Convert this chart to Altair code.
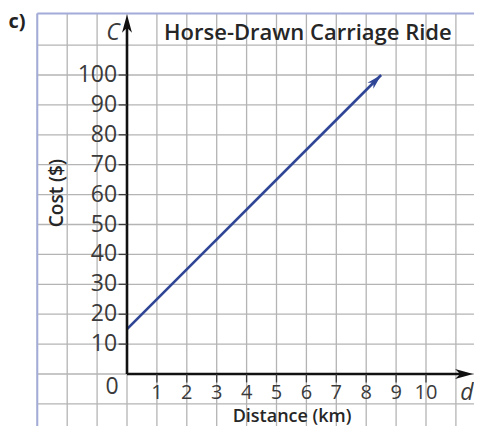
import altair as alt
import pandas as pd

# ---- data ----
distance = [0, 8.5]          # km
cost = [15, 100]             # $
x_ticks = [1, 2, 3, 4, 5, 6, 7, 8, 9, 10]
y_ticks = [10, 20, 30, 40, 50, 60, 70, 80, 90, 100]
grid_x = list(range(-3, 12))
grid_y = list(range(-10, 120, 10))

title_text = "Horse-Drawn Carriage Ride"
x_title = "Distance (km)"
y_title = "Cost ($)"

# ---- scales (plot area 466 x 418) ----
W, H = 466, 418
XMIN = -3.98
XMAX = XMIN + W / 29.9
YMAX = 122.41
YMIN = YMAX - H / 2.99
TOP = 120.6
xs = alt.Scale(domain=[XMIN, XMAX], nice=False, zero=False)
ys = alt.Scale(domain=[YMIN, YMAX], nice=False, zero=False)

FONT = "Open Sans"
GRID = "#b4b4b4"
BORDER = "#a3acd8"
INK = "#3a3a3a"
LINE = "#2f4596"
ARROW = "M0,0 L0.55,2 L0,1.45 L-0.55,2 Z"


def X(f):
    return alt.X(f, type="quantitative", scale=xs, axis=None)


def Y(f):
    return alt.Y(f, type="quantitative", scale=ys, axis=None)


def X2(f):
    return alt.X2(f)


def Y2(f):
    return alt.Y2(f)


# grid
vgrid = alt.Chart(pd.DataFrame({"x": grid_x, "y1": [YMIN] * len(grid_x), "y2": [TOP] * len(grid_x)})).mark_rule(
    color=GRID, strokeWidth=1.3).encode(x=X("x"), y=Y("y1"), y2=Y2("y2"))
hgrid = alt.Chart(pd.DataFrame({"y": grid_y, "x1": [-3] * len(grid_y), "x2": [XMAX] * len(grid_y)})).mark_rule(
    color=GRID, strokeWidth=1.3).encode(y=Y("y"), x=X("x1"), x2=X2("x2"))
borders = alt.Chart(pd.DataFrame({
    "x1": [-3, -3], "x2": [-3, XMAX], "y1": [YMIN, TOP], "y2": [TOP, TOP]
})).mark_rule(color=BORDER, strokeWidth=2).encode(x=X("x1"), x2=X2("x2"), y=Y("y1"), y2=Y2("y2"))

# axes lines
axes = alt.Chart(pd.DataFrame({
    "x1": [0, 0], "x2": [0, 11.3], "y1": [0, 0], "y2": [117.5, 0]
})).mark_rule(color="#111111", strokeWidth=2.6).encode(x=X("x1"), x2=X2("x2"), y=Y("y1"), y2=Y2("y2"))
axis_arrows = alt.Chart(pd.DataFrame({"x": [0, 11.58], "y": [120.2, 0], "a": [0, 90]})).mark_point(
    shape=ARROW, filled=True, color="#111111", size=330, opacity=1).encode(
    x=X("x"), y=Y("y"), angle=alt.Angle("a:Q", scale=None))

# ticks
ytick_marks = alt.Chart(pd.DataFrame({"y": y_ticks, "x1": [-0.28] * 10, "x2": [0] * 10})).mark_rule(
    color=INK, strokeWidth=1.3).encode(y=Y("y"), x=X("x1"), x2=X2("x2"))
xtick_marks = alt.Chart(pd.DataFrame({"x": x_ticks, "y1": [0] * 10, "y2": [-2.8] * 10})).mark_rule(
    color=INK, strokeWidth=1.3).encode(x=X("x"), y=Y("y1"), y2=Y2("y2"))

ylabels = alt.Chart(pd.DataFrame({"y": y_ticks, "x": [-0.33] * 10, "t": [str(v) for v in y_ticks]})).mark_text(
    align="right", baseline="middle", font=FONT, fontSize=23, color=INK).encode(x=X("x"), y=Y("y"), text="t:N")
xlabels = alt.Chart(pd.DataFrame({"x": x_ticks, "y": [-6.2] * 10, "t": [str(v) for v in x_ticks]})).mark_text(
    align="center", baseline="middle", font=FONT, fontSize=20, color=INK).encode(x=X("x"), y=Y("y"), text="t:N")
zero_label = alt.Chart(pd.DataFrame({"x": [-0.5], "y": [-4.2], "t": ["0"]})).mark_text(
    align="center", baseline="middle", font=FONT, fontSize=23, color=INK).encode(x=X("x"), y=Y("y"), text="t:N")

var_labels = alt.Chart(pd.DataFrame({"x": [-0.47, 11.37], "y": [114.0, -6.4], "t": ["C", "d"]})).mark_text(
    align="center", baseline="middle", font=FONT, fontSize=23, fontStyle="italic", color=INK).encode(
    x=X("x"), y=Y("y"), text="t:N")

part_label = alt.Chart(pd.DataFrame({"x": [-3.68], "y": [117.6], "t": ["c)"]})).mark_text(
    align="center", baseline="middle", font=FONT, fontSize=20, fontWeight="bold", color="#222222").encode(
    x=X("x"), y=Y("y"), text="t:N")

title = alt.Chart(pd.DataFrame({"x": [6.05], "y": [114.2], "t": [title_text]})).mark_text(
    align="center", baseline="middle", font=FONT, fontSize=22, fontWeight=600, color="#262626").encode(
    x=X("x"), y=Y("y"), text="t:N")
xtitle = alt.Chart(pd.DataFrame({"x": [5.52], "y": [-14.5], "t": [x_title]})).mark_text(
    align="center", baseline="middle", font=FONT, fontSize=18, fontWeight=600, color="#262626").encode(
    x=X("x"), y=Y("y"), text="t:N")
ytitle = alt.Chart(pd.DataFrame({"x": [-2.35], "y": [60.5], "t": [y_title]})).mark_text(
    align="center", baseline="middle", font=FONT, fontSize=19, fontWeight=600, color="#262626", angle=270).encode(
    x=X("x"), y=Y("y"), text="t:N")

# data line with arrowhead
df_line = pd.DataFrame({"d": distance, "c": cost})
line = alt.Chart(df_line).mark_line(color=LINE, strokeWidth=2.6).encode(x=X("d"), y=Y("c"))
tip = alt.Chart(df_line.tail(1)).mark_point(
    shape=ARROW, filled=True, color=LINE, size=230, opacity=1, angle=45).encode(x=X("d"), y=Y("c"))

chart = alt.layer(
    vgrid, hgrid, borders, line, tip, axes, axis_arrows, ytick_marks, xtick_marks,
    ylabels, xlabels, zero_label, var_labels, part_label, title, xtitle, ytitle
).properties(
    width=W, height=H, padding=0, autosize=alt.AutoSizeParams(type="none")
).configure_view(stroke=None)

chart.save("out.html", embed_options={"renderer": "svg", "actions": False})
